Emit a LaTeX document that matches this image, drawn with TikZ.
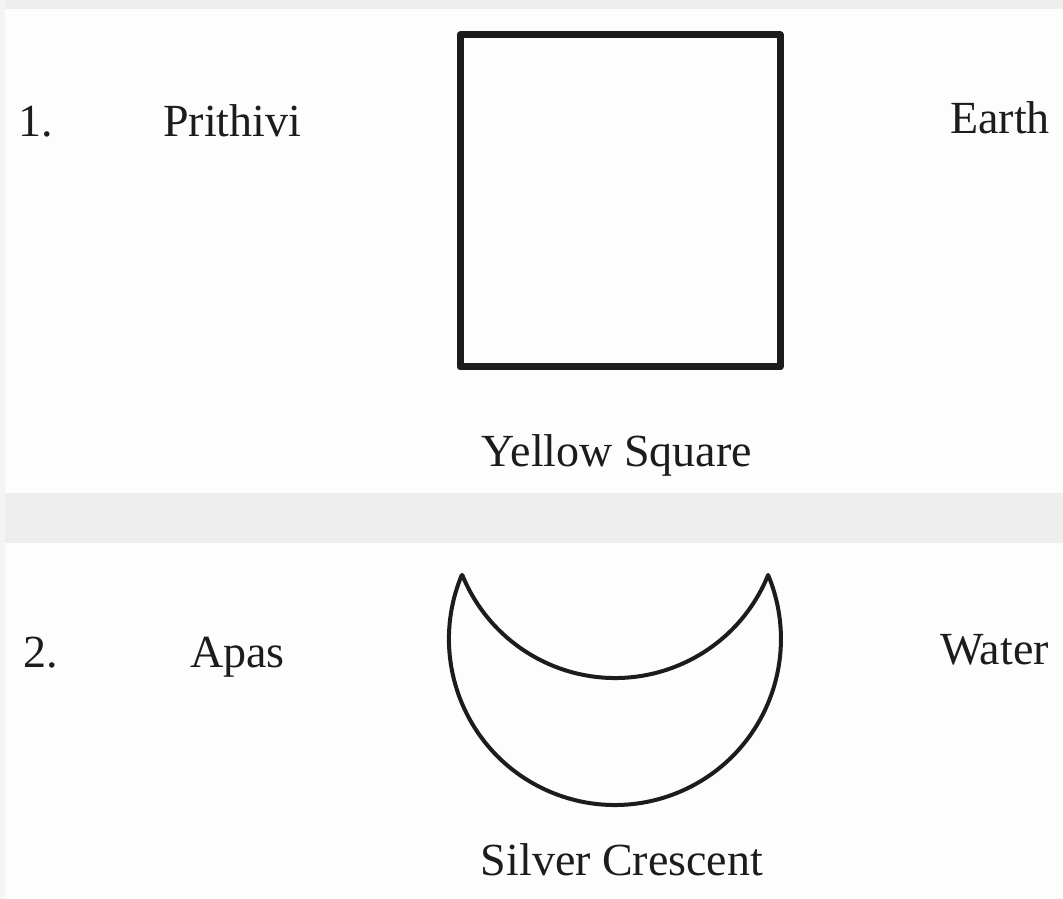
\documentclass[tikz,border=0pt]{standalone}
\usepackage{fontspec}
\setmainfont{Liberation Serif}
\definecolor{paper}{RGB}{253,253,253}
\definecolor{band}{RGB}{238,238,238}
\definecolor{ink}{RGB}{28,28,28}
\begin{document}
\begin{tikzpicture}[x=1pt,y=1pt,
  lbl/.style={inner sep=0pt, text=ink, font=\fontsize{46}{55}\selectfont},
  shapeline/.style={draw=ink, line join=round}]
\useasboundingbox (0,0) rectangle (1063,899);
\fill[paper] (0,0) rectangle (1063,899);
% textured bands
\fill[band] (0,890) rectangle (1063,899);
\fill[band] (0,356) rectangle (1063,406);
\fill[band!60!paper] (0,0) rectangle (5,899);
% row 1
\node[lbl, anchor=base west] (n1) at (18,762) {1.};
\node[lbl, anchor=base west] (prithivi) at (163,762) {Prithivi};
\node[shapeline, line width=7pt, minimum width=320, minimum height=332, inner sep=0pt] (square) at (620,698) {};
\node[lbl, anchor=base west] (earth) at (950,765) {Earth};
\node[lbl, anchor=base] (yellow) at (617,432) {Yellow Square};
% row 2
\node[lbl, anchor=base west] (n2) at (23,231) {2.};
\node[lbl, anchor=base west] (apas) at (190,231) {Apas};
\coordinate (tipL) at (461.8,324);
\draw[shapeline, line width=4pt] (tipL) arc[start angle=157.32, end angle=382.68, radius=166]
   arc[start angle=-22.07, end angle=-157.93, radius=165] -- cycle;
\node[lbl, anchor=base west] (water) at (940,234) {Water};
\node[lbl, anchor=base] (silver) at (622,23) {Silver Crescent};
\end{tikzpicture}
\end{document}
